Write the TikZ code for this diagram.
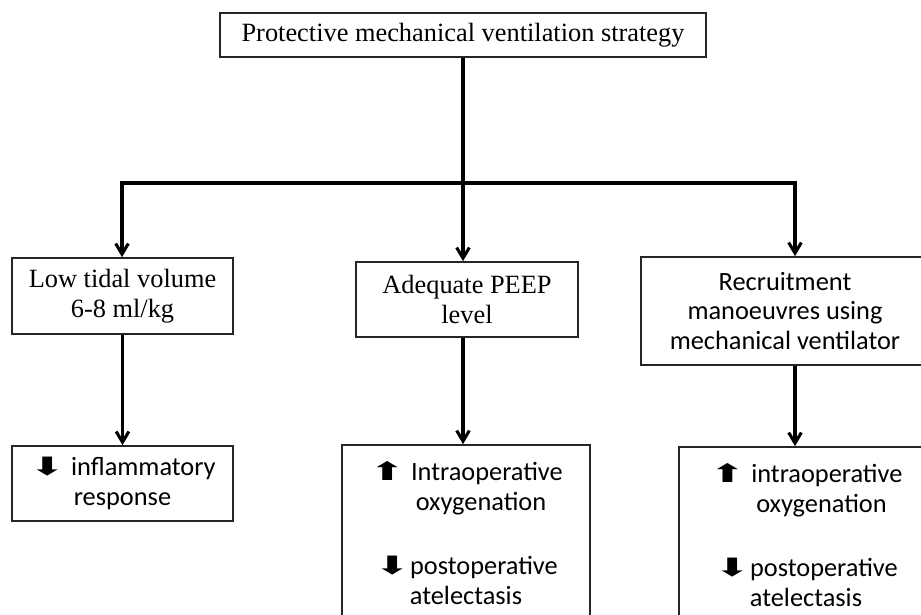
\documentclass[tikz,border=0pt]{standalone}
\usepackage{fontspec}
\setmainfont{Liberation Serif}
\newfontfamily\calfont{Carlito}
\newfontfamily\symfont{DejaVu Sans}
\newcommand\arrowup{\scalebox{1.35}[0.8]{\symfont\fontsize{27}{27}\selectfont ⬆}}
\newcommand\arrowdown{\scalebox{1.35}[0.8]{\symfont\fontsize{27}{27}\selectfont ⬇}}
\usetikzlibrary{arrows.meta}

\begin{document}
\begin{tikzpicture}[x=0.03cm,y=-0.03cm]
\tikzset{
  box/.style={rectangle,draw=black!85,line width=1.4pt,inner sep=0pt,align=center,font=\fontsize{22.5}{25.5}\selectfont},
  sansbox/.style={box,font=\calfont\fontsize{22.5}{25.5}\selectfont},
  conn/.style={-{Straight Barb[length=3.2mm,width=3.8mm]},line width=2.6pt}
}
\useasboundingbox (0,0) rectangle (921,615);
\clip (0,0) rectangle (921,615);
\node[box,minimum width=14.58cm,minimum height=1.32cm] (n_top) at (463,35) {Protective mechanical ventilation strategy};
\node[box,minimum width=6.63cm,minimum height=2.28cm] (n_low) at (122.5,296) {Low tidal volume\\6-8 ml/kg};
\node[box,minimum width=6.66cm,minimum height=2.25cm] (n_peep) at (467,299.5) {Adequate PEEP\\level};
\node[sansbox,minimum width=8.64cm,minimum height=3.24cm] (n_rec) at (785,311) {Recruitment\\manoeuvres using\\mechanical ventilator};
\node[sansbox,minimum width=6.63cm,minimum height=2.25cm] (n_inf) at (122.5,483.5) {\arrowdown\ inflammatory\\response};
\node[sansbox,minimum width=7.44cm,minimum height=5.28cm] (n_mid) at (466,533) {\arrowup\ Intraoperative\\\hspace*{0.9cm}oxygenation\\[1.02cm]\arrowdown postoperative\\atelectasis};
\node[sansbox,minimum width=7.62cm,minimum height=5.28cm] (n_rsp) at (806,535) {\arrowup\ intraoperative\\\hspace*{0.93cm}oxygenation\\[1.02cm]\arrowdown postoperative\\atelectasis};
\coordinate (j) at (463,183);
\coordinate (c_l) at (122,183);
\coordinate (c_r) at (795,183);
\draw[conn] (n_top.south) -- (n_top.south |- n_peep.north);
\draw[conn] (j) -- (c_l) -- (c_l |- n_low.north);
\draw[conn] (j) -- (c_r) -- (c_r |- n_rec.north);
\draw[conn] (n_low) -- (n_inf);
\draw[conn] (n_top.south |- n_peep.south) -- (n_top.south |- n_mid.north);
\draw[conn] (c_r |- n_rec.south) -- (c_r |- n_rsp.north);
\end{tikzpicture}
\end{document}
